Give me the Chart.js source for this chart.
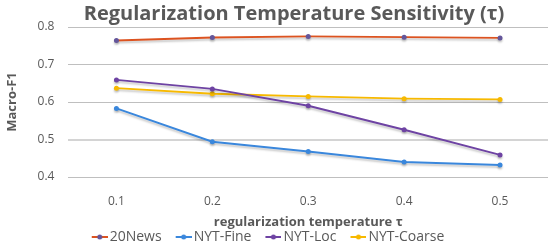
<!DOCTYPE html>
<html><head><meta charset="utf-8">
<script src="https://cdn.jsdelivr.net/npm/chart.js@4"></script>
<style>html,body{margin:0;padding:0;background:#fff}#wrap{width:552px;height:248px}</style>
</head><body><div id="wrap"><canvas id="c"></canvas></div>
<script>
const categories = ["0.1","0.2","0.3","0.4","0.5"];
const news20 = [0.764,0.772,0.775,0.773,0.771];
const nytFine = [0.583,0.494,0.468,0.440,0.432];
const nytLoc = [0.659,0.635,0.590,0.526,0.459];
const nytCoarse = [0.637,0.622,0.615,0.609,0.607];
const seriesNames = ["20News","NYT-Fine","NYT-Loc","NYT-Coarse"];
const colors = ["#dc5320","#3a87dc","#6e43a3","#f7b900"];
const pointColors = ["#64569a","#3a87dc","#6e43a3","#f7b900"];
const FONT = "'Open Sans', sans-serif";

// legend marker: transparent lead-in + short line with a dot
function marker(color, dot){
  const c=document.createElement('canvas'); c.width=35; c.height=8;
  const x=c.getContext('2d');
  x.strokeStyle=color; x.lineWidth=2; x.beginPath(); x.moveTo(19,4); x.lineTo(35,4); x.stroke();
  x.fillStyle=dot; x.beginPath(); x.arc(27,4,2.5,0,Math.PI*2); x.fill();
  return c;
}
const shadow={id:'shadow',
  beforeDatasetDraw(chart){const ctx=chart.ctx;ctx.save();ctx.shadowColor='rgba(0,0,0,0.22)';ctx.shadowOffsetY=2;ctx.shadowBlur=2;},
  afterDatasetDraw(chart){chart.ctx.restore();}};
const shiftBoxes={id:'shiftBoxes',afterLayout(chart){
  if(chart.legend){chart.legend.left-=15;chart.legend.right-=15;}
  if(chart.titleBlock){chart.titleBlock.left+=18;chart.titleBlock.right+=18;}}};
const vals=[news20,nytFine,nytLoc,nytCoarse];
new Chart(document.getElementById('c'),{
  type:'line',
  data:{labels:categories,datasets:vals.map((d,i)=>({label:seriesNames[i],data:d,borderColor:colors[i],backgroundColor:pointColors[i],borderWidth:2,pointRadius:2.5,pointBackgroundColor:pointColors[i],pointBorderWidth:0,tension:0}))},
  options:{responsive:true,maintainAspectRatio:false,animation:false,
    layout:{padding:{left:4,right:4,top:2,bottom:-6}},
    plugins:{
      title:{display:true,text:'Regularization Temperature Sensitivity (τ)',color:'#595959',font:{family:FONT,size:20,weight:'bold'},padding:{top:0,bottom:1}},
      legend:{position:'bottom',labels:{usePointStyle:true,pointStyleWidth:25,color:'#595959',font:{family:FONT,size:14},padding:0,boxHeight:8,
        generateLabels(chart){return chart.data.datasets.map((ds,i)=>({text:ds.label,fillStyle:colors[i],strokeStyle:colors[i],pointStyle:marker(colors[i],pointColors[i]),datasetIndex:i,fontColor:'#595959',lineWidth:0}));}}},
      tooltip:{enabled:false}
    },
    scales:{
      x:{offset:true,grid:{display:false},border:{display:false},ticks:{color:'#595959',font:{family:FONT,size:12},padding:9},
        title:{display:true,text:'regularization temperature τ',color:'#595959',font:{family:FONT,size:13,weight:'bold'},padding:{top:-3,bottom:0}}},
      y:{min:0.4,max:0.8,ticks:{stepSize:0.1,color:'#595959',font:{family:FONT,size:12},padding:14,callback:v=>v.toFixed(1)},
        grid:{color:c=>Math.abs(c.tick.value-0.5)<1e-6?'#d4d4d4':'#bfbfbf',lineWidth:c=>Math.abs(c.tick.value-0.5)<1e-6?2:1,drawTicks:false},border:{display:false},
        title:{display:true,text:'Macro-F1',color:'#595959',font:{family:FONT,size:13,weight:'bold'},padding:{top:0,bottom:4}}}
    }
  },
  plugins:[shadow,shiftBoxes]
});
</script></body></html>
